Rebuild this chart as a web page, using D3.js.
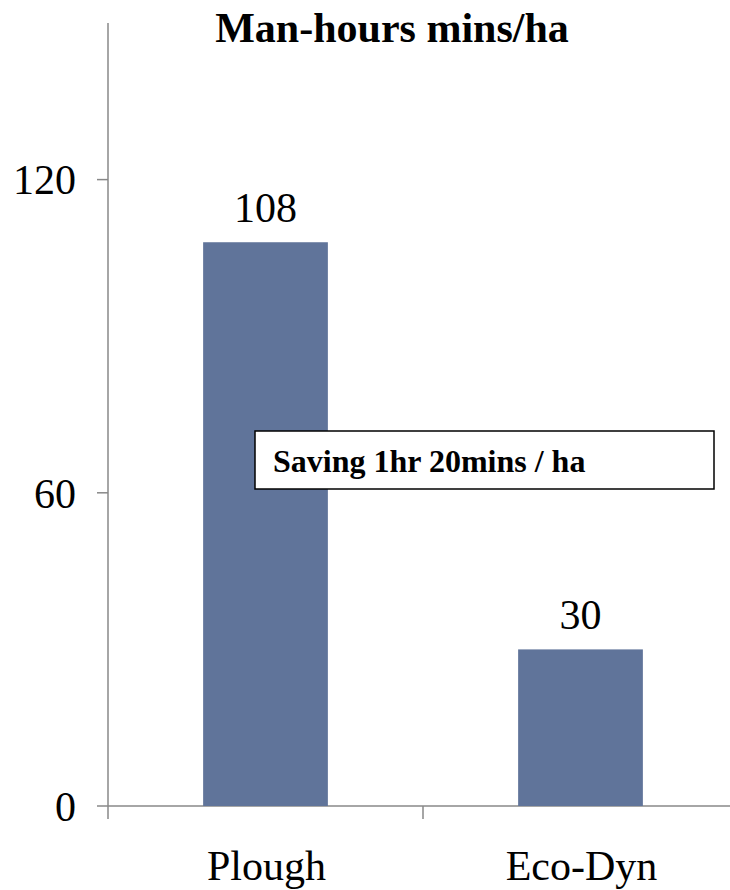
<!DOCTYPE html>
<html><head><meta charset="utf-8">
<script src="https://cdn.jsdelivr.net/npm/d3@7"></script>
<style>html,body{margin:0;padding:0;background:#fff}</style>
</head><body>
<script>
const categories = ["Plough", "Eco-Dyn"];
const values = [108, 30];
const yTicks = [0, 60, 120];
const title = "Man-hours mins/ha";
const note = "Saving 1hr 20mins / ha";

const W = 730, H = 890;
const svg = d3.select("body").append("svg").attr("width", W).attr("height", H);
const font = "'Liberation Serif','Times New Roman',serif";

const x = d3.scaleBand().domain(categories).range([108, 738]).paddingInner(0.604).paddingOuter(0.302);
const y = d3.scaleLinear().domain([0, 150]).range([806, 23]);

// y axis
svg.append("line").attr("x1", 108).attr("x2", 108).attr("y1", y(150)).attr("y2", y(0)).attr("stroke", "#888").attr("stroke-width", 1.5);
yTicks.forEach(t => {
  svg.append("line").attr("x1", 97).attr("x2", 108).attr("y1", y(t)).attr("y2", y(t)).attr("stroke", "#888").attr("stroke-width", 1.5);
  svg.append("text").attr("x", 76).attr("y", y(t)).attr("dy", "0.35em").attr("text-anchor", "end")
    .attr("font-family", font).attr("font-size", 42).text(t);
});

// x axis
svg.append("line").attr("x1", 108).attr("x2", 740).attr("y1", y(0)).attr("y2", y(0)).attr("stroke", "#888").attr("stroke-width", 1.5);
const stepEdges = [108, 108 + x.step(), 108 + 2 * x.step()];
stepEdges.forEach(e => {
  svg.append("line").attr("x1", e).attr("x2", e).attr("y1", y(0)).attr("y2", y(0) + 13).attr("stroke", "#888").attr("stroke-width", 1.5);
});

// bars
svg.selectAll("rect.bar").data(values).enter().append("rect").attr("class", "bar")
  .attr("x", (d, i) => x(categories[i])).attr("width", x.bandwidth())
  .attr("y", d => y(d)).attr("height", d => y(0) - y(d)).attr("fill", "#60749a");

// value labels
svg.selectAll("text.val").data(values).enter().append("text").attr("class", "val")
  .attr("x", (d, i) => x(categories[i]) + x.bandwidth() / 2).attr("y", d => y(d) - 20)
  .attr("text-anchor", "middle").attr("font-family", font).attr("font-size", 42).text(d => d);

// category labels
categories.forEach(c => {
  svg.append("text").attr("x", x(c) + x.bandwidth() / 2 + 1).attr("y", 880).attr("text-anchor", "middle")
    .attr("font-family", font).attr("font-size", 42).text(c);
});

// title
svg.append("text").attr("x", 392).attr("y", 42).attr("text-anchor", "middle").attr("font-family", font)
  .attr("font-size", 42).attr("font-weight", "bold").text(title);

// annotation box
svg.append("rect").attr("x", 255).attr("y", 431).attr("width", 459).attr("height", 58)
  .attr("fill", "#fff").attr("stroke", "#000").attr("stroke-width", 1.5);
svg.append("text").attr("x", 273).attr("y", 472).attr("font-family", font).attr("font-size", 32)
  .attr("font-weight", "bold").text(note);
</script>
</body></html>
